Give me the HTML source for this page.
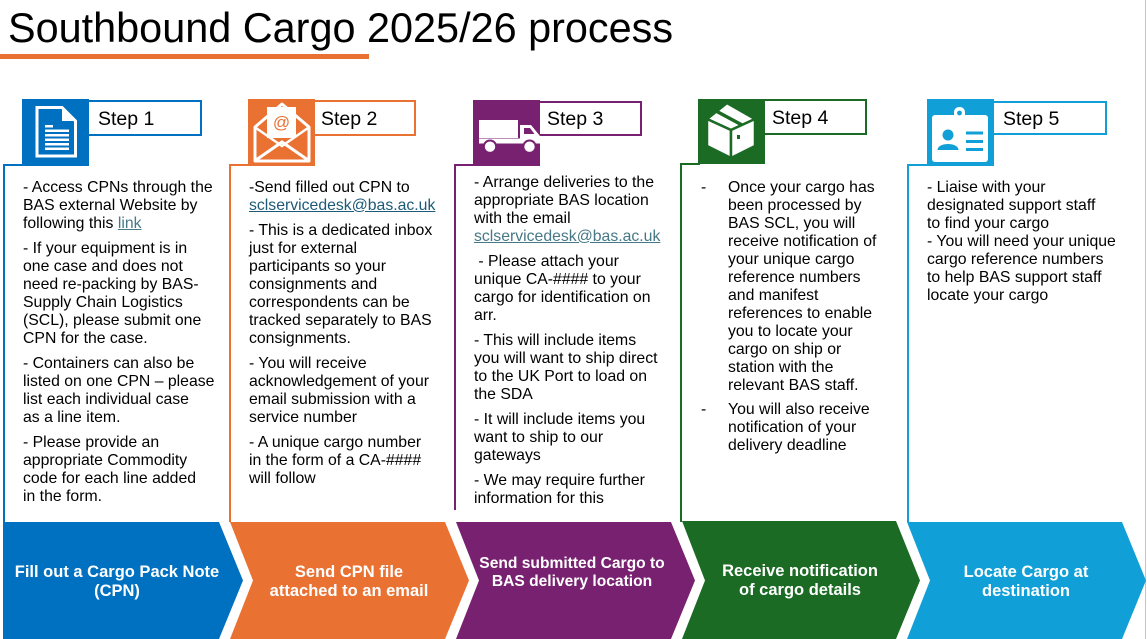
<!DOCTYPE html>
<html>
<head>
<meta charset="utf-8">
<style>
  html,body{margin:0;padding:0}
  body{width:1147px;height:639px;position:relative;overflow:hidden;background:#fff;font-family:"Liberation Sans",Arial,sans-serif;color:#000}
  .a{position:absolute}
  .t{position:absolute;font-size:15.8px;line-height:18px;white-space:nowrap;color:#000}
  .t p{margin:0}
  .t p+p{margin-top:7px}
  .lk{text-decoration:underline;color:#467886}
  .lbl{position:absolute;background:#fff;box-sizing:border-box;border:2px solid}
  .lt{position:absolute;font-size:19.5px;line-height:20px;white-space:nowrap;color:#000}
  .cv{position:absolute;color:#fff;font-weight:bold;text-align:center;white-space:nowrap;font-size:16.5px;line-height:19px;width:260px}
  .vl{position:absolute;width:2px}
  .hl{position:absolute;height:2px}
</style>
</head>
<body>

<!-- right edge gray line -->
<div class="a" style="left:1145px;top:0;width:1px;height:639px;background:#c4c4c4"></div>

<!-- Title -->
<div class="a" style="left:8px;top:7.9px;font-size:41.4px;line-height:41px;white-space:nowrap">Southbound Cargo 2025/26 process</div>
<div class="a" style="left:0;top:54px;width:369px;height:5px;background:#E97132"></div>

<!-- Chevrons -->
<svg class="a" style="left:0;top:0" width="1147" height="639" viewBox="0 0 1147 639">
  <polygon fill="#0070C0" points="3,522 219,522 243,580.5 219,639 3,639"/>
  <polygon fill="#E97132" points="230,522 445,522 469,580.5 445,639 230,639 253,580.5"/>
  <polygon fill="#782170" points="456,522 671,522 695,580.5 671,639 456,639 479,580.5"/>
  <polygon fill="#1B6B24" points="682,521 896,521 920,580.5 896,639 682,639 705,580.5"/>
  <polygon fill="#109FD6" points="907,522 1122,522 1146,580.5 1122,639 907,639 930,580.5"/>
</svg>

<div class="cv" style="left:-13px;top:563.3px">Fill out a Cargo Pack Note<br>(CPN)</div>
<div class="cv" style="left:219px;top:563.3px">Send CPN file<br>attached to an email</div>
<div class="cv" style="left:442px;top:555.3px;font-size:15.6px;line-height:18px">Send submitted Cargo to<br>BAS delivery location</div>
<div class="cv" style="left:670px;top:562.3px">Receive notification<br>of cargo details</div>
<div class="cv" style="left:896px;top:563.3px">Locate Cargo at<br>destination</div>

<!-- Step frames: left lines + top stubs -->
<div class="vl" style="left:3px;top:164px;height:358px;background:#0070C0"></div>
<div class="hl" style="left:3px;top:164px;width:20px;background:#0070C0"></div>

<div class="vl" style="left:229px;top:164px;height:358px;background:#E97132"></div>
<div class="hl" style="left:229px;top:164px;width:20px;background:#E97132"></div>

<div class="vl" style="left:454px;top:164px;height:346px;background:#782170"></div>
<div class="hl" style="left:454px;top:164px;width:20px;background:#782170"></div>

<div class="vl" style="left:680px;top:163px;height:359px;background:#1B6B24"></div>
<div class="hl" style="left:680px;top:163px;width:20px;background:#1B6B24"></div>

<div class="vl" style="left:907px;top:164px;height:358px;background:#109FD6"></div>
<div class="hl" style="left:907px;top:164px;width:21px;background:#109FD6"></div>

<!-- Labels -->
<div class="lbl" style="left:87px;top:100px;width:115px;height:36px;border-color:#0070C0"></div>
<div class="lt" style="left:98px;top:108.7px">Step 1</div>

<div class="lbl" style="left:313px;top:100px;width:103px;height:36px;border-color:#E97132"></div>
<div class="lt" style="left:321px;top:108.7px">Step 2</div>

<div class="lbl" style="left:538px;top:101px;width:104px;height:35px;border-color:#782170"></div>
<div class="lt" style="left:547px;top:109.4px">Step 3</div>

<div class="lbl" style="left:763px;top:99px;width:104px;height:36px;border-color:#1B6B24"></div>
<div class="lt" style="left:772px;top:107.7px">Step 4</div>

<div class="lbl" style="left:992px;top:101px;width:115px;height:34px;border-color:#109FD6"></div>
<div class="lt" style="left:1003px;top:108.7px">Step 5</div>

<!-- Icon 1: document -->
<svg class="a" style="left:22px;top:99px" width="67" height="67" viewBox="0 0 67 67">
  <rect width="67" height="67" fill="#0070C0"/>
  <path d="M15,8.5 H40 L53.5,22 V57 H15 Z" fill="none" stroke="#fff" stroke-width="3" stroke-linejoin="miter"/>
  <polygon points="40,8.5 53.5,22 40,22" fill="#fff"/>
  <rect x="23" y="26" width="8" height="2.5" fill="#fff"/>
  <rect x="23" y="30.5" width="24" height="2.5" fill="#fff"/>
  <rect x="23" y="35" width="24" height="2.5" fill="#fff"/>
  <rect x="23" y="39.5" width="24" height="2.5" fill="#fff"/>
  <rect x="23" y="44" width="24" height="2.5" fill="#fff"/>
  <rect x="23" y="48.5" width="24" height="2.5" fill="#fff"/>
</svg>

<!-- Icon 2: envelope with @ -->
<svg class="a" style="left:248px;top:99px" width="67" height="67" viewBox="0 0 67 67">
  <rect width="67" height="67" fill="#E97132"/>
  <polygon points="7,28 34,5 61,28 61,62 7,62" fill="none" stroke="#fff" stroke-width="3" stroke-linejoin="round"/>
  <polyline points="8,29 34,47 60,29" fill="none" stroke="#fff" stroke-width="2.5"/>
  <polyline points="8,61 34,43 60,61" fill="none" stroke="#fff" stroke-width="3"/>
  <rect x="19" y="8" width="29" height="31" fill="#fff"/>
  <text x="33.5" y="29" text-anchor="middle" font-family="Liberation Sans, sans-serif" font-size="17" fill="#E97132">@</text>
</svg>

<!-- Icon 3: truck -->
<svg class="a" style="left:473px;top:100px" width="67" height="66" viewBox="0 0 67 66">
  <rect width="67" height="66" fill="#782170"/>
  <rect x="6" y="20" width="39" height="18" fill="#fff"/>
  <rect x="6" y="38.5" width="61" height="5" fill="#fff"/>
  <path d="M47,25 H58 L67,36 V43.5 H47 Z" fill="#fff"/>
  <polygon points="51,28 57,28 61.5,34 51,34" fill="#782170"/>
  <circle cx="17" cy="46.7" r="6.2" fill="#fff" stroke="#782170" stroke-width="2"/>
  <circle cx="56.5" cy="46.7" r="6.2" fill="#fff" stroke="#782170" stroke-width="2"/>
</svg>

<!-- Icon 4: box -->
<svg class="a" style="left:698px;top:99px" width="67" height="65" viewBox="0 0 67 65">
  <rect width="67" height="65" fill="#1B6B24"/>
  <g stroke="#1B6B24" stroke-width="2.5" stroke-linejoin="round" fill="#fff">
    <polygon points="29,4 57,20 33,31 9,20"/>
    <polygon points="9,20 33,31 33,59 9,47"/>
    <polygon points="33,31 57,20 57,47 33,59"/>
  </g>
  <polyline points="18,12 44,26" stroke="#1B6B24" stroke-width="3.5" fill="none"/>
  <rect x="39" y="36" width="3" height="4" fill="#1B6B24"/>
</svg>

<!-- Icon 5: ID badge -->
<svg class="a" style="left:927px;top:99px" width="67" height="67" viewBox="0 0 67 67">
  <rect width="67" height="67" fill="#109FD6"/>
  <rect x="5" y="16" width="56" height="47" rx="3" fill="#fff"/>
  <rect x="27" y="8" width="11" height="14" rx="5" fill="#fff"/>
  <circle cx="32.5" cy="14" r="2.4" fill="#109FD6"/>
  <circle cx="21" cy="36" r="5.5" fill="#109FD6"/>
  <path d="M10.5,51 C10.5,43 31.5,43 31.5,51 Z" fill="#109FD6"/>
  <rect x="39" y="32.5" width="17" height="3" fill="#109FD6"/>
  <rect x="39" y="41" width="17" height="3" fill="#109FD6"/>
  <rect x="39" y="49" width="17" height="3" fill="#109FD6"/>
</svg>

<!-- Step 1 text -->
<div class="t" style="left:23px;top:178.8px">
  <p>- Access CPNs through the<br>BAS external Website by<br>following this <span class="lk">link</span></p>
  <p>- If your equipment is in<br>one case and does not<br>need re-packing by BAS-<br>Supply Chain Logistics<br>(SCL), please submit one<br>CPN for the case.</p>
  <p>- Containers can also be<br>listed on one CPN – please<br>list each individual case<br>as a line item.</p>
  <p>- Please provide an<br>appropriate Commodity<br>code for each line added<br>in the form.</p>
</div>

<!-- Step 2 text -->
<div class="t" style="left:249px;top:178.8px">
  <p>-Send filled out CPN to<br><span class="lk" style="color:#1d5a77">sclservicedesk@bas.ac.uk</span></p>
  <p>- This is a dedicated inbox<br>just for external<br>participants so your<br>consignments and<br>correspondents can be<br>tracked separately to BAS<br>consignments.</p>
  <p>- You will receive<br>acknowledgement of your<br>email submission with a<br>service number</p>
  <p>- A unique cargo number<br>in the form of a CA-####<br>will follow</p>
</div>

<!-- Step 3 text -->
<div class="t" style="left:474px;top:173.8px">
  <p>- Arrange deliveries to the<br>appropriate BAS location<br>with the email<br><span class="lk">sclservicedesk@bas.ac.uk</span></p>
  <p>&nbsp;- Please attach your<br>unique CA-#### to your<br>cargo for identification on<br>arr.</p>
  <p>- This will include items<br>you will want to ship direct<br>to the UK Port to load on<br>the SDA</p>
  <p>- It will include items you<br>want to ship to our<br>gateways</p>
  <p>- We may require further<br>information for this</p>
</div>

<!-- Step 4 text -->
<div class="t" style="left:701px;top:178.7px">-</div>
<div class="t" style="left:728px;top:178.7px">
  <p>Once your cargo has<br>been processed by<br>BAS SCL, you will<br>receive notification of<br>your unique cargo<br>reference numbers<br>and manifest<br>references to enable<br>you to locate your<br>cargo on ship or<br>station with the<br>relevant BAS staff.</p>
  <p style="margin-top:6px">You will also receive<br>notification of your<br>delivery deadline</p>
</div>
<div class="t" style="left:701px;top:400.7px">-</div>

<!-- Step 5 text -->
<div class="t" style="left:927px;top:178.8px">
  <p>- Liaise with your<br>designated support staff<br>to find your cargo<br>- You will need your unique<br>cargo reference numbers<br>to help BAS support staff<br>locate your cargo</p>
</div>

</body>
</html>
